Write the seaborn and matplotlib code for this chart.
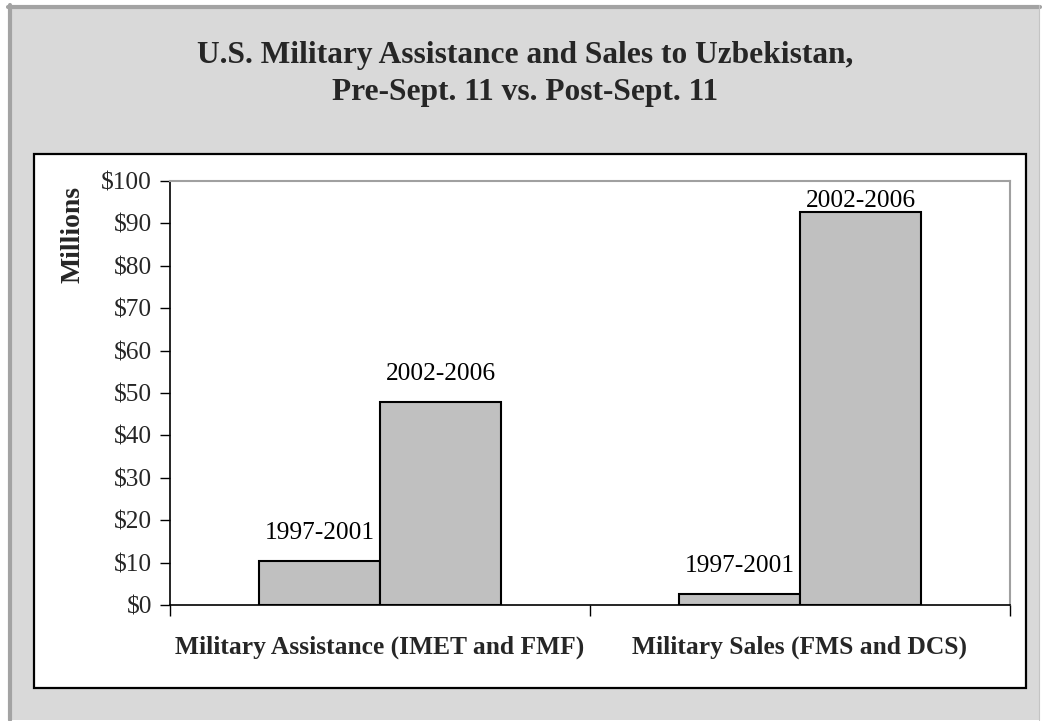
import matplotlib
matplotlib.use("Agg")
import matplotlib.pyplot as plt
import seaborn as sns
import pandas as pd
from matplotlib.patches import Rectangle
from matplotlib.lines import Line2D
from matplotlib.ticker import FuncFormatter, FixedLocator

# ---- data ----
categories = ["Military Assistance (IMET and FMF)", "Military Sales (FMS and DCS)"]
periods = ["1997-2001", "2002-2006"]
assistance_values = [10.3, 47.8]
sales_values = [2.6, 92.7]

title = "U.S. Military Assistance and Sales to Uzbekistan,\nPre-Sept. 11 vs. Post-Sept. 11"
ylabel = "Millions"
yticks = list(range(0, 101, 10))

df = pd.DataFrame({
    "category": [categories[0]] * 2 + [categories[1]] * 2,
    "period": periods * 2,
    "value": assistance_values + sales_values,
})

sns.set_theme(style="white")
plt.rcParams["font.family"] = ["Liberation Serif", "DejaVu Serif"]

W, H = 1052, 721
fig = plt.figure(figsize=(W / 100, H / 100), dpi=100)
fig.patch.set_facecolor("white")

def fx(px):
    return px / W

def fy(py):
    return 1 - py / H

# outer gray panel
fig.patches.append(Rectangle((fx(8), fy(720)), fx(1040) - fx(8), fy(5) - fy(720),
                             transform=fig.transFigure, facecolor="#d9d9d9",
                             edgecolor="none", zorder=-10))
fig.lines.append(Line2D([fx(10), fx(10)], [fy(720), fy(5)], transform=fig.transFigure,
                        color="#a3a3a3", lw=3.0, zorder=-9))
fig.lines.append(Line2D([fx(8), fx(1040)], [fy(7), fy(7)], transform=fig.transFigure,
                        color="#a3a3a3", lw=3.0, zorder=-9))
fig.lines.append(Line2D([fx(1039), fx(1039)], [fy(720), fy(5)], transform=fig.transFigure,
                        color="#c4c4c4", lw=0.8, zorder=-9))

# inner white chart box
fig.patches.append(Rectangle((fx(34), fy(688)), fx(1026) - fx(34), fy(154) - fy(688),
                             transform=fig.transFigure, facecolor="white",
                             edgecolor="black", lw=1.6, zorder=-8))

ax = fig.add_axes([fx(170), fy(605), fx(1010) - fx(170), fy(181) - fy(605)])
ax.set_facecolor("white")

sns.barplot(data=df, x="category", y="value", hue="period", hue_order=periods,
            order=categories, palette=["#c0c0c0", "#c0c0c0"], width=0.576,
            gap=0, edgecolor="black", linewidth=1.5, saturation=1,
            legend=False, ax=ax, errorbar=None)

ax.set_xlim(-0.5, 1.5)
ax.set_ylim(0, 100)

# value labels (period names) above bars
pad = 4.0
top_cap = 92.7
for container, period in zip(ax.containers, periods):
    for bar in container:
        h = bar.get_height()
        ypos = min(h + pad, top_cap)
        ax.text(bar.get_x() + bar.get_width() / 2, ypos, period,
                ha="center", va="bottom", fontsize=18.3, color="black")

# axes styling
for side in ["left", "bottom"]:
    ax.spines[side].set_color("black")
    ax.spines[side].set_linewidth(1.2)
for side in ["top", "right"]:
    ax.spines[side].set_color("#a0a0a0")
    ax.spines[side].set_linewidth(1.5)

ax.yaxis.set_major_locator(FixedLocator(yticks))
ax.yaxis.set_major_formatter(FuncFormatter(lambda v, p: f"${v:.0f}"))
ax.tick_params(axis="y", direction="out", length=7, width=1, color="black",
               labelsize=18.3, pad=6, left=True)
ax.set_xticks([0, 1])
ax.set_xticklabels(categories, fontsize=18.4, fontweight="bold")
ax.set_xticks([-0.5, 0.5, 1.5], minor=True)
ax.tick_params(axis="x", which="major", length=0, pad=22)
ax.tick_params(axis="x", which="minor", direction="out", length=8, width=1,
               color="black", bottom=True)
ax.set_xlabel("")
ax.set_ylabel("")
ax.grid(False)

fig.text(fx(73), fy(234), ylabel, rotation=90, ha="center", va="center",
         fontsize=20, fontweight="bold")
fig.text(fx(525), fy(74), title, ha="center", va="center", fontsize=22.6,
         fontweight="bold", linespacing=1.35)

fig.savefig("out.png", dpi=100, facecolor=fig.get_facecolor())
